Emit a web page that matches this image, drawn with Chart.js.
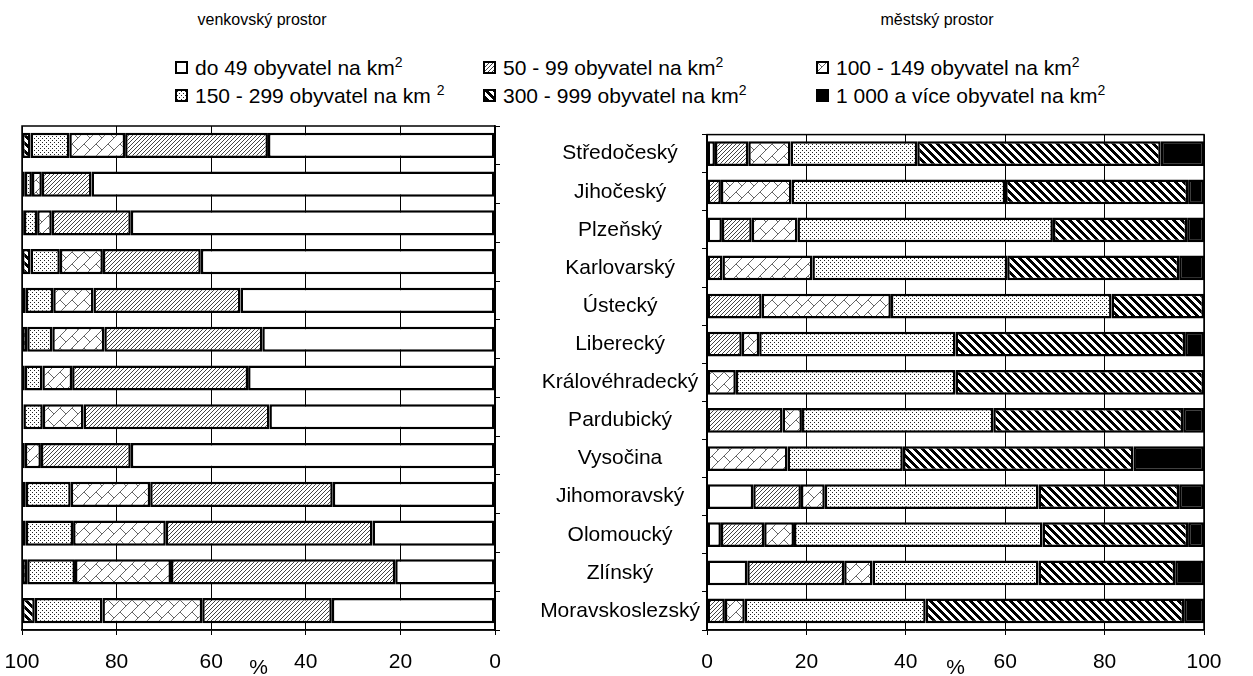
<!DOCTYPE html>
<html>
<head>
<meta charset="utf-8">
<script src="https://cdn.jsdelivr.net/npm/chart.js"></script>
<style>
body { margin:0; width:1253px; height:676px; overflow:hidden; background:#fff; position:relative; font-family:"Liberation Sans", Arial, sans-serif; color:#000; }
.title { position:absolute; top:11px; font-size:16px; transform:translateX(-50%); white-space:nowrap; }
.lg { position:absolute; font-size:21px; line-height:24px; white-space:nowrap; }
.lg canvas { vertical-align:middle; margin-right:7px; position:relative; top:-2px; }
.lg sup { font-size:14px; line-height:0; }
#left { position:absolute; left:0; top:120px; }
#right { position:absolute; left:520px; top:120px; }
</style>
</head>
<body>
<div class="title" style="left:262px">venkovský prostor</div>
<div class="title" style="left:937px">městský prostor</div>

<div class="lg" style="left:175px;top:56px"><canvas class="sw" width="13" height="13"></canvas>do 49 obyvatel na km<sup>2</sup></div>
<div class="lg" style="left:483px;top:56px"><canvas class="sw" width="13" height="13"></canvas>50 - 99 obyvatel na km<sup>2</sup></div>
<div class="lg" style="left:816px;top:56px"><canvas class="sw" width="13" height="13"></canvas>100 - 149 obyvatel na km<sup>2</sup></div>
<div class="lg" style="left:175px;top:84px"><canvas class="sw" width="13" height="13"></canvas>150 - 299 obyvatel na km <sup>2</sup></div>
<div class="lg" style="left:483px;top:84px"><canvas class="sw" width="13" height="13"></canvas>300 - 999 obyvatel na km<sup>2</sup></div>
<div class="lg" style="left:816px;top:84px"><canvas class="sw" width="13" height="13"></canvas>1 000 a více obyvatel na km<sup>2</sup></div>

<canvas id="left" width="510" height="561"></canvas>
<canvas id="right" width="733" height="561"></canvas>

<script>
const regions = ['Středočeský', 'Jihočeský', 'Plzeňský', 'Karlovarský', 'Ústecký', 'Liberecký',
    'Královéhradecký', 'Pardubický', 'Vysočina', 'Jihomoravský', 'Olomoucký', 'Zlínský', 'Moravskoslezský'];
const groups = ['do 49 obyvatel na km²', '50 - 99 obyvatel na km²', '100 - 149 obyvatel na km²',
    '150 - 299 obyvatel na km²', '300 - 999 obyvatel na km²', '1 000 a více obyvatel na km²'];
const xTicks = [0, 20, 40, 60, 80, 100];

// venkovský prostor (%)
const rural49   = [48.0, 85.3, 77.0, 62.2, 53.8, 49.2, 52.2, 47.7, 77.0, 34.3, 25.9, 21.1, 34.5];
const rural50   = [30.2, 10.5, 16.7, 20.7, 31.1, 33.4, 37.2, 39.3, 19.0, 38.6, 43.7, 47.4, 27.4];
const rural100  = [11.8, 2.1, 3.1, 9.1, 8.5, 11.0, 6.3, 8.6, 3.4, 16.8, 19.6, 20.3, 21.1];
const rural150  = [8.2, 1.5, 2.8, 6.2, 5.8, 5.3, 3.7, 4.1, 0, 9.5, 10.0, 10.1, 14.3];
const rural300  = [1.8, 0.6, 0.4, 1.8, 0.8, 1.1, 0.6, 0.3, 0.6, 0.8, 0.8, 1.1, 2.7];
const rural1000 = [0, 0, 0, 0, 0, 0, 0, 0, 0, 0, 0, 0, 0];

// městský prostor (%)
const urban49   = [1.6, 0, 3.0, 0, 0, 0, 0, 0, 0, 9.3, 2.8, 8.1, 0];
const urban50   = [6.7, 2.8, 6.0, 3.1, 11.0, 7.0, 0, 15.2, 0, 9.6, 8.7, 19.5, 3.6];
const urban100  = [8.5, 14.2, 9.2, 18.1, 26.0, 3.5, 5.8, 3.9, 16.2, 4.8, 6.0, 5.7, 4.0];
const urban150  = [25.5, 43.0, 51.4, 39.2, 44.4, 39.5, 44.2, 38.5, 23.2, 43.0, 50.0, 33.4, 36.4];
const urban300  = [49.0, 36.8, 27.0, 34.6, 18.6, 46.2, 50.0, 38.2, 46.4, 28.3, 29.3, 27.5, 52.0];
const urban1000 = [8.7, 3.2, 3.4, 5.0, 0, 3.8, 0, 4.2, 14.2, 5.0, 3.2, 5.8, 4.0];

// hatch patterns, one per group
function tile(w, h, draw) {
    var c = document.createElement('canvas');
    c.width = w; c.height = h;
    var g = c.getContext('2d');
    g.fillStyle = '#fff'; g.fillRect(0, 0, w, h);
    draw(g);
    return c;
}
function px(g, x, y, col) { g.fillStyle = col; g.fillRect(x, y, 1, 1); }

var tiles = [
    tile(4, 4, function (g) {}),
    tile(4, 4, function (g) { for (var i = 0; i < 4; i++) px(g, i, 3 - i, '#444'); }),
    tile(12, 12, function (g) {
        for (var i = 0; i < 12; i++) px(g, i, 11 - i, '#666');
        for (var i = 0; i < 6; i++) px(g, i, i, '#666');
    }),
    tile(4, 4, function (g) { px(g, 0, 0, '#222'); px(g, 2, 2, '#222'); }),
    tile(8, 8, function (g) {
        for (var y = 0; y < 8; y++) for (var x = 0; x < 8; x++)
            if ((((x - y) % 8) + 8) % 8 < 4) px(g, x, y, '#000');
    }),
    tile(4, 4, function (g) { g.fillStyle = '#000'; g.fillRect(0, 0, 4, 4); })
];
var helper = document.createElement('canvas').getContext('2d');
var fills = tiles.map(function (t) { return helper.createPattern(t, 'repeat'); });

// legend swatches
var sw = document.getElementsByClassName('sw');
for (var i = 0; i < sw.length; i++) {
    var g = sw[i].getContext('2d');
    g.fillStyle = g.createPattern(tiles[i], 'repeat');
    g.fillRect(0, 0, 13, 13);
    g.strokeStyle = '#000'; g.lineWidth = 2;
    g.strokeRect(1, 1, 11, 11);
}

var frame = {
    id: 'frame',
    afterDraw: function (chart) {
        var a = chart.chartArea, ctx = chart.ctx;
        ctx.save();
        ctx.strokeStyle = '#000'; ctx.lineWidth = 1.5;
        ctx.strokeRect(a.left, a.top, a.right - a.left, a.bottom - a.top);
        ctx.restore();
    }
};

Chart.defaults.font.family = '"Liberation Sans", Arial, sans-serif';
Chart.defaults.color = '#000';

function makeChart(id, series, rural) {
    return new Chart(document.getElementById(id), {
        type: 'bar',
        data: {
            labels: regions,
            datasets: series.map(function (v, i) {
                return {
                    label: groups[i], data: v, backgroundColor: fills[i],
                    borderColor: '#000', borderWidth: 2.5, borderSkipped: false,
                    barPercentage: 0.65, categoryPercentage: 1
                };
            })
        },
        options: {
            indexAxis: 'y', responsive: false, animation: false, events: [], devicePixelRatio: 1,
            layout: { padding: rural ? { left: 22, top: 6 } : { right: 49, top: 6 } },
            plugins: { legend: { display: false }, tooltip: { enabled: false } },
            scales: {
                x: {
                    stacked: true, min: 0, max: 100, reverse: rural,
                    afterBuildTicks: function (s) { s.ticks = xTicks.map(function (v) { return { value: v }; }); },
                    ticks: { font: { size: 21 }, padding: 15, maxRotation: 0 },
                    grid: { color: '#000', tickLength: 5 },
                    border: { color: '#000', width: 1.5 },
                    title: { display: true, text: '%', font: { size: 21 }, padding: 0 },
                    afterFit: function (s) { s.height = 51; }
                },
                y: {
                    stacked: true, position: rural ? 'right' : 'left',
                    ticks: { display: !rural, font: { size: 21 }, crossAlign: 'center', padding: 2 },
                    grid: { color: '#000', drawOnChartArea: false, tickLength: 5, offset: true },
                    border: { color: '#000', width: 1.5 },
                    afterFit: function (s) { s.width = rural ? 15 : 187; }
                }
            }
        },
        plugins: [frame]
    });
}

makeChart('left', [rural49, rural50, rural100, rural150, rural300, rural1000], true);
makeChart('right', [urban49, urban50, urban100, urban150, urban300, urban1000], false);
</script>
</body>
</html>
